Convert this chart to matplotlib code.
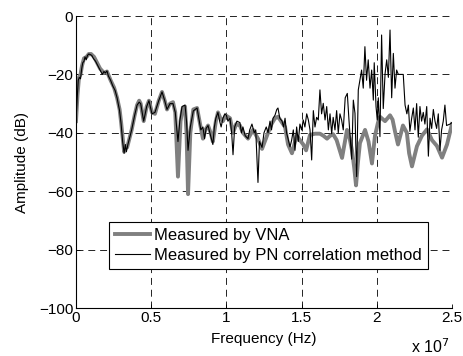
import numpy as np
import matplotlib.pyplot as plt

plt.rcParams['font.family'] = ['Liberation Sans', 'DejaVu Sans']
plt.rcParams['font.size'] = 11
plt.rcParams['lines.scale_dashes'] = False

# VNA measurement (frequency in MHz, amplitude in dB)
vna_f = [0.0, 0.1, 0.2, 0.3, 0.4, 0.53, 0.7, 0.85, 1.0, 1.2, 1.4, 1.6, 1.86, 2.06,
         2.3, 2.53, 2.73, 2.9, 3.0, 3.2, 3.3, 3.4, 3.55, 3.7, 3.9, 4.06, 4.2, 4.3,
         4.5, 4.7, 4.85, 5.05, 5.25, 5.5, 5.72, 5.9, 6.05, 6.25, 6.45, 6.6, 6.78,
         6.95, 7.1, 7.25, 7.35, 7.45, 7.6, 7.8, 8.05, 8.25, 8.44, 8.6, 8.78, 8.95,
         9.1, 9.3, 9.44, 9.6, 9.77, 9.95, 10.24, 10.44, 10.65, 10.9, 11.1, 11.44,
         11.77, 12.1, 12.37, 12.77, 13.0, 13.23, 13.43, 13.9, 14.1, 14.36, 14.67,
         14.89, 15.11, 15.3, 15.56, 15.9, 16.22, 16.45, 16.69, 16.9, 17.1, 17.33,
         17.69, 18.02, 18.2, 18.35, 18.5, 18.62, 18.75, 18.88, 19.22, 19.45, 19.68,
         19.88, 20.08, 20.21, 20.55, 20.88, 21.05, 21.21, 21.41, 21.74, 22.0, 22.15,
         22.34, 22.67, 23.0, 23.34, 23.67, 24.0, 24.34, 24.67, 25.0]
vna_db = [-36, -27, -21, -20, -17, -14.5, -14, -13, -13, -14, -16, -18, -19.5, -19,
          -22, -24.5, -28, -32, -36.5, -46.5, -45, -45, -42, -39, -34, -30.5, -29, -30,
          -36, -31, -29, -33, -33.5, -29, -26, -29, -32, -30, -29.5, -33, -55,
          -36, -31.5, -31, -40, -61, -40, -32, -31.5, -37, -42, -39, -37.5, -40,
          -43, -36, -33, -35, -36, -34, -35, -40, -37, -37.5, -40, -42,
          -39, -42, -45.5, -40, -37, -35, -34.5, -38, -44, -47, -41,
          -42.5, -44, -46, -40.7, -40.3, -40.3, -41, -42, -41, -40.5, -42.5,
          -48.6, -39, -42, -46, -52, -58, -50, -43.5, -39, -43, -50.5,
          -41, -36.5, -34.5, -36, -34, -35.5, -39.5, -44, -37.5, -40, -47,
          -51.5, -44.6, -41, -38.8, -42.5, -44.5, -48.5, -44, -37]

# PN correlation method (frequency in MHz, amplitude in dB)
pn_f = [0.0, 0.08, 0.15, 0.22, 0.3, 0.38, 0.45, 0.53, 0.6, 0.68, 0.76, 0.85, 0.95,
        1.05, 1.15, 1.3, 1.45, 1.6, 1.75, 1.86, 1.95, 2.06, 2.15, 2.3, 2.45, 2.6,
        2.73, 2.9, 3.0, 3.1, 3.2, 3.28, 3.35, 3.45, 3.55, 3.7, 3.9, 4.06, 4.2, 4.3,
        4.5, 4.7, 4.85, 5.05, 5.25, 5.5, 5.72, 5.9, 6.05, 6.25, 6.45, 6.6, 6.78,
        6.9, 7.05, 7.25, 7.35, 7.45, 7.6, 7.8, 8.05, 8.2, 8.3, 8.44, 8.55, 8.65,
        8.78, 8.9, 9.1, 9.2, 9.3, 9.44, 9.55, 9.65, 9.77, 9.9, 10.0, 10.1, 10.24,
        10.35, 10.44, 10.55, 10.7, 10.9, 11.0, 11.1, 11.25, 11.44, 11.55, 11.7,
        11.85, 11.95, 12.1, 12.2, 12.37, 12.5, 12.65, 12.77, 12.9, 13.0, 13.1,
        13.23, 13.35, 13.43, 13.55, 13.7, 13.8, 13.9, 14.0, 14.1, 14.23, 14.34,
        14.45, 14.56, 14.67, 14.78, 14.89, 15.0, 15.11, 15.22, 15.34, 15.45, 15.56,
        15.67, 15.78, 15.89, 16.0, 16.11, 16.22, 16.33, 16.44, 16.56, 16.67, 16.78,
        16.89, 17.0, 17.1, 17.22, 17.33, 17.44, 17.55, 17.66, 17.77, 17.9, 18.04,
        18.15, 18.33, 18.44, 18.55, 18.66, 18.77, 18.88, 18.99, 19.1, 19.21, 19.32,
        19.43, 19.55, 19.66, 19.77, 19.83, 19.95, 20.03, 20.1, 20.21, 20.32, 20.43,
        20.55, 20.66, 20.77, 20.88, 20.99, 21.1, 21.21, 21.32, 21.43, 21.76, 21.88,
        22.0, 22.1, 22.2, 22.32, 22.43, 22.54, 22.65, 22.76, 22.87, 22.98, 23.09,
        23.2, 23.32, 23.43, 23.54, 23.65, 23.76, 23.87, 23.98, 24.09, 24.2, 24.31,
        24.42, 24.53, 24.64, 24.87, 25.0]
pn_db = [-36, -28, -22, -21, -21.5, -18, -16, -15.5, -14, -15, -13.5, -13, -13.2,
         -13.5, -14.5, -15.5, -17, -18.5, -20, -19, -19.5, -18.8, -20.5, -22, -24, -25.5,
         -28, -32.5, -37, -43, -47, -44, -46.5, -44, -42, -39, -34, -30.5, -29.5, -30,
         -36, -31, -29, -33.5, -33, -29, -26, -29, -32, -30, -30, -33, -43,
         -36, -31, -30.5, -36, -46, -38, -32.5, -31.5, -36, -39, -38, -42, -38.5,
         -37.5, -40, -44, -38, -35, -33, -36, -38, -35, -33.5, -34, -36, -35,
         -40, -47.5, -38, -36, -36.5, -40, -38, -41, -42, -39, -37,
         -40, -39, -57, -43, -45, -40, -38, -40, -36, -39, -35,
         -34, -32, -31.5, -35, -36, -38, -35, -40, -42, -44.8, -42.5,
         -39, -46, -38, -43, -37, -39, -35.6, -38, -33.5, -35.6, -39,
         -49.3, -32.4, -38, -34.7, -35.6, -25.3, -33.5, -29.9, -35.6, -31, -39,
         -33.5, -40.3, -34.7, -39, -32.4, -40, -33.5, -35.6, -39, -28, -26.5,
         -35.6, -49, -28.8, -33.3, -55, -25.3, -22, -18.5, -24.7, -10.5, -22,
         -15, -24.7, -18.5, -28.8, -16, -31, -35.6, -28, -41.3, -6.5, -31.7,
         -19.8, -15, -21, -4.8, -28, -12.8, -24.7, -18.5, -20, -20, -30.5,
         -33.5, -30.5, -39.5, -35, -31.5, -39, -30, -41.5, -31, -36, -33,
         -37, -31, -48, -35, -38.5, -32, -36, -38.5, -33.5, -46, -39,
         -36, -30.5, -37.5, -37, -36.5]

xticks = [0, 0.5e7, 1e7, 1.5e7, 2e7, 2.5e7]
xticklabels = ['0', '0.5', '1', '1.5', '2', '2.5']
yticks = [-100, -80, -60, -40, -20, 0]

fig = plt.figure(figsize=(4.64, 3.56), dpi=100)
ax = fig.add_axes([0.1638, 0.1348, 0.8103, 0.8202])

ax.plot(np.array(vna_f) * 1e6, vna_db, color='#808080', lw=2.8,
        label='Measured by VNA')
ax.plot(np.array(pn_f) * 1e6, pn_db, color='black', lw=0.8,
        label='Measured by PN correlation method')

ax.set_xlim(0, 2.5e7)
ax.set_ylim(-100, 0)
ax.set_xticks(xticks)
ax.set_xticklabels(xticklabels)
ax.set_yticks(yticks)
ax.grid(True, color='black', lw=0.6, linestyle=(0, (5, 3.5)))
ax.spines['top'].set_visible(False)
ax.spines['right'].set_visible(False)
for s in ['left', 'bottom']:
    ax.spines[s].set_linewidth(0.8)
ax.tick_params(direction='in', length=3, width=0.6, pad=2)

ax.set_xlabel('Frequency (Hz)', labelpad=5)
ax.set_ylabel('Amplitude (dB)', labelpad=7)
fig.text(0.885, 0.008, r'x 10$^7$', fontsize=11.5)

leg = ax.legend(loc='lower left', bbox_to_anchor=(0.088, 0.134), fancybox=False,
                framealpha=1, edgecolor='black', handlelength=2.1,
                borderpad=0.35, labelspacing=0.3, handletextpad=0.25,
                borderaxespad=0, fontsize=12)
leg.get_frame().set_linewidth(0.8)

fig.savefig('out.png', dpi=100)
